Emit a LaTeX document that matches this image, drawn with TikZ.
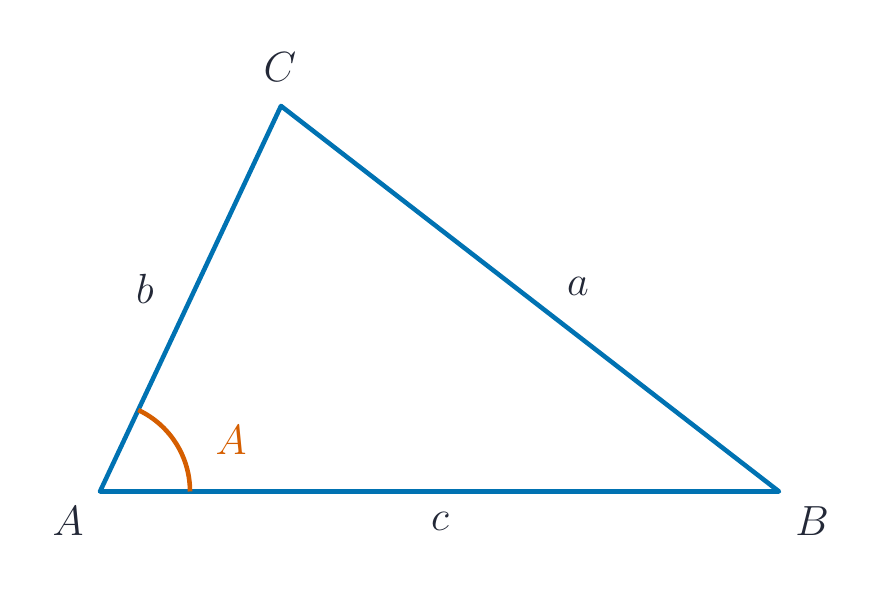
\documentclass[tikz,border=0pt]{standalone}
\usepackage{tikz}
\usepackage{amsmath}
\usepackage{xcolor}
\usetikzlibrary{calc}

\definecolor{sideblue}{RGB}{0,114,178}
\definecolor{angleorange}{RGB}{213,94,0}
\definecolor{labelgray}{RGB}{35,40,55}

\begin{document}
\begin{tikzpicture}[font=\fontsize{11.7}{14}\selectfont, text=labelgray]
        \useasboundingbox (0,0) rectangle (8.83,5.90);

        % Vertices
        \coordinate (A) at (1.00,0.985);
        \coordinate (B) at (7.79,0.985);
        \coordinate (C) at (2.81,4.84);

        % Triangle
        \draw[line width=1.3pt, sideblue, line join=round, line cap=round] (A) -- (B) -- (C) -- cycle;

        % Angle at A
        \draw[line width=1.3pt, angleorange] ($(A)+(0.90,0)$) arc[start angle=0, end angle=64.8, radius=0.90];

        % Vertex labels
        \node (lA) at (0.68,0.69) {$A$};
        \node (lB) at (8.12,0.69) {$B$};
        \node (lC) at (2.80,5.23) {$C$};

        % Side labels
        \node (la) at (5.78,3.04) {$a$};
        \node (lb) at (1.45,3.01) {$b$};
        \node (lc) at (4.40,0.69) {$c$};

        % Angle label
        \node[text=angleorange] (langle) at (2.31,1.50) {$A$};
    \end{tikzpicture}
\end{document}
